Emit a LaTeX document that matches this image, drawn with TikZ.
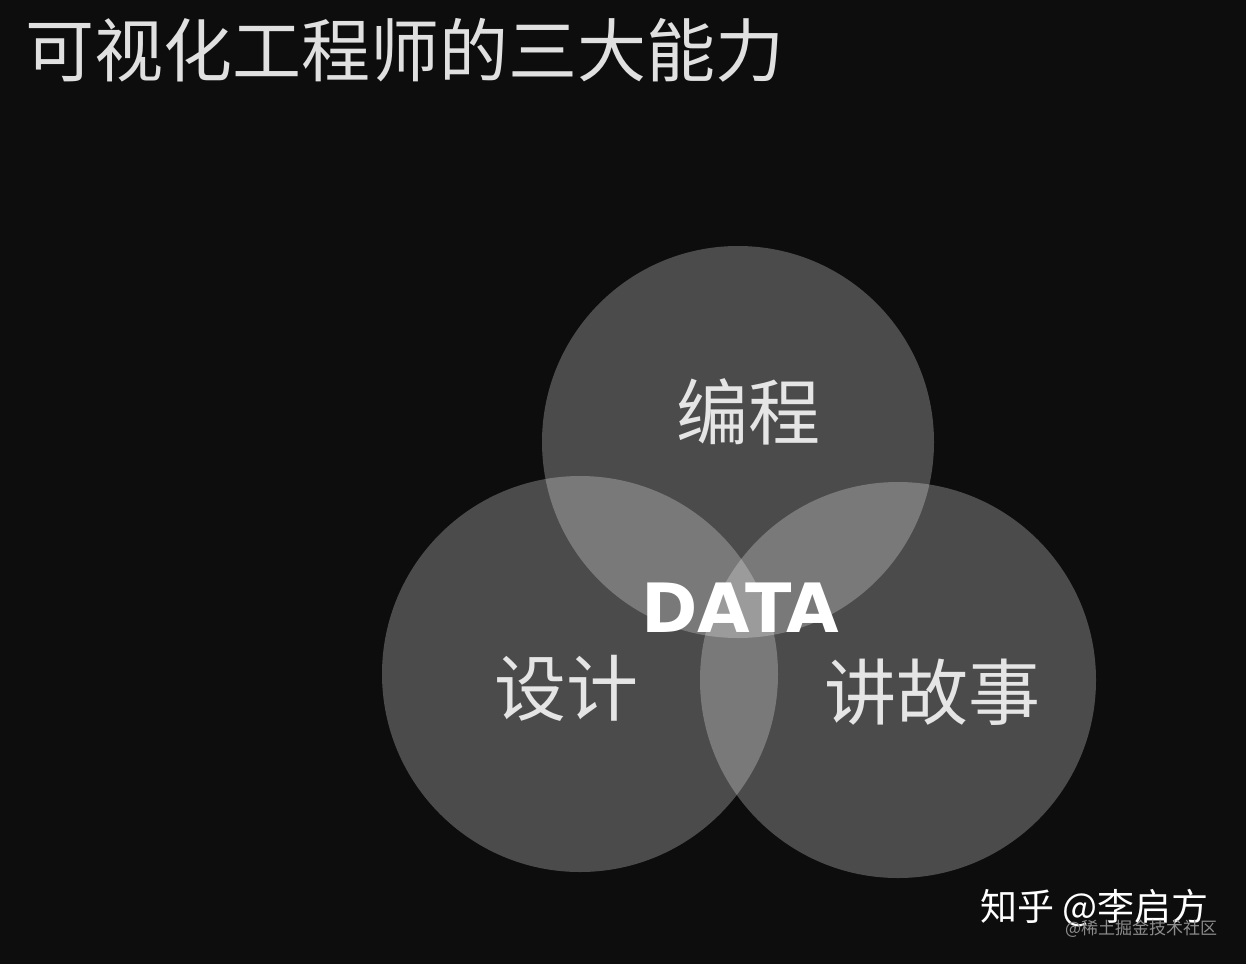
\documentclass[tikz,border=0pt]{standalone}
\usepackage{fontspec}
\setmainfont{Noto Sans CJK SC}
\newfontfamily\cjk{Noto Sans CJK SC}
\begin{document}
\begin{tikzpicture}[x=0.5pt,y=-0.5pt,
  venn/.style={fill=white,fill opacity=0.26,draw=none},
  lab/.style={text=white!90!black,font=\cjk\fontsize{36}{40}\selectfont}]
\fill[black!95] (0,0) rectangle (1246,964);
\useasboundingbox (0,0) rectangle (1246,964);
\node[anchor=west,text=white!88!black,font=\cjk\fontsize{34.5}{38}\selectfont] (title) at (18,50) {可视化工程师的三大能力};
\fill[venn] (738,442) circle (196);
\fill[venn] (580,674) circle (198);
\fill[venn] (898,680) circle (198);
\node[lab] (bc) at (748,412) {编程};
\node[lab] (sj) at (566,688) {设计};
\node[lab] (jgs) at (932,692) {讲故事};
\node[text=white,font=\fontspec{DejaVu Sans}\bfseries\fontsize{34}{38}\selectfont] (data) at (740,608) {DATA};
\node[anchor=west,text=white,font=\cjk\fontsize{18.5}{22}\selectfont] (zh) at (973,908) {知乎 @李启方};
\node[anchor=west,text=white!55!black,font=\cjk\fontsize{8.5}{10}\selectfont] (wm) at (1058,929) {@稀土掘金技术社区};
\end{tikzpicture}
\end{document}
